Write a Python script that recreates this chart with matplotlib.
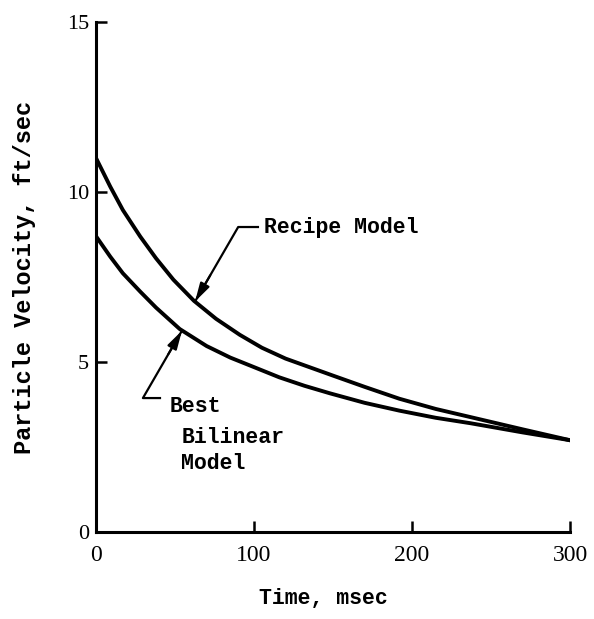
import numpy as np
import matplotlib
matplotlib.use("Agg")
import matplotlib.pyplot as plt

T_RECIPE = [0, 9, 17, 28, 38, 49, 62, 76, 91, 105, 120, 135, 150, 170, 192, 215, 237, 270, 300]
V_RECIPE = [11.0, 10.16, 9.47, 8.69, 8.05, 7.42, 6.8, 6.27, 5.8, 5.42, 5.1, 4.85,
            4.6, 4.27, 3.92, 3.62, 3.38, 3.02, 2.7]
T_BILIN = [0, 9, 17, 28, 38, 53, 70, 85, 100, 116, 132, 148, 170, 192, 215, 237, 270, 300]
V_BILIN = [8.7, 8.1, 7.61, 7.07, 6.6, 5.97, 5.47, 5.13, 4.85, 4.55, 4.3, 4.08,
           3.8, 3.57, 3.36, 3.2, 2.93, 2.7]

X_TICKS = [0, 100, 200, 300]
Y_TICKS = [0, 5, 10, 15]

MONO = "Liberation Mono"
SERIF = "Liberation Serif"

fig = plt.figure(figsize=(5.94, 6.19), dpi=100)
ax = fig.add_axes([0.1616, 0.1405, 0.798, 0.824])

ax.plot(T_RECIPE, V_RECIPE, color="black", lw=2.8, solid_joinstyle="round")
ax.plot(T_BILIN, V_BILIN, color="black", lw=2.8, solid_joinstyle="round")

ax.set_xlim(0, 300)
ax.set_ylim(0, 15)
for s in ("top", "right"):
    ax.spines[s].set_visible(False)
for s in ("left", "bottom"):
    ax.spines[s].set_linewidth(2.2)

ax.set_xticks(X_TICKS)
ax.set_yticks(Y_TICKS)
ax.set_xticklabels([str(v) for v in X_TICKS], family=SERIF, fontsize=17)
ax.set_yticklabels([str(v) for v in Y_TICKS], family=SERIF, fontsize=16)
ax.tick_params(direction="in", length=8, width=1.8, pad=5)
ax.tick_params(axis="x", pad=9)
# no visible tick marks at the origin
ax.xaxis.get_major_ticks()[0].tick1line.set_visible(False)
ax.yaxis.get_major_ticks()[0].tick1line.set_visible(False)

ax.set_xlabel("Time, msec", family=MONO, fontsize=15.5, fontweight="bold")
ax.xaxis.set_label_coords(0.48, -0.11)
ax.set_ylabel("Particle Velocity, ft/sec", family=MONO, fontsize=17,
              fontweight="bold", labelpad=22)

arrow = dict(arrowstyle="-|>,head_length=0.8,head_width=0.22", color="black",
             lw=1.5, mutation_scale=14, shrinkA=0, shrinkB=0)

# leader: Recipe Model
ax.plot([62.7, 90, 102.5], [6.78, 8.97, 8.97], color="black", lw=1.6)
ax.annotate("", xy=(62.7, 6.78), xytext=(72.3, 7.55), arrowprops=arrow)
ax.text(106.5, 8.97, "Recipe Model", family=MONO, fontsize=15.5,
        fontweight="bold", ha="left", va="center")

# leader: Best Bilinear Model
ax.plot([54.4, 29.7, 40.5], [5.92, 3.94, 3.94], color="black", lw=1.6)
ax.annotate("", xy=(54.4, 5.92), xytext=(45.75, 5.23), arrowprops=arrow)
ax.text(46.5, 3.68, "Best", family=MONO, fontsize=15.5, fontweight="bold",
        ha="left", va="center")
ax.text(54.5, 2.79, "Bilinear", family=MONO, fontsize=15.5, fontweight="bold",
        ha="left", va="center")
ax.text(53.5, 2.03, "Model", family=MONO, fontsize=15.5, fontweight="bold",
        ha="left", va="center")

fig.savefig("out.png", dpi=100)
